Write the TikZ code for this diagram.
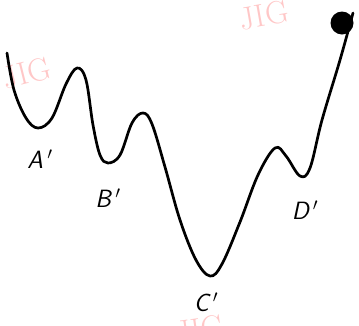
\documentclass[tikz,border=0pt]{standalone}
\usepackage{tikz}
\begin{document}
\begin{tikzpicture}[
  x=1pt, y=-1pt,
  every node/.style={font=\sffamily\itshape\fontsize{25}{28}\selectfont},
  etiqueta/.style={inner sep=1pt},
  marca/.style={text=red!22, font=\rmfamily\fontsize{32}{34}\selectfont, inner sep=0pt},
  curva/.style={line width=2.7pt, line cap=round, line join=round},
  bola/.style={circle, fill=black, minimum size=23pt, inner sep=0pt}
]
\useasboundingbox (0,0) rectangle (359,325);
% marcas d'agua
\node[marca, rotate=14] (m1) at (27,73) {JIG};
\node[marca, rotate=10] (m2) at (264,15) {JIG};
\node[marca, rotate=8] (m3) at (200,329) {JIG};
% paisagem de energia
\draw[curva] plot[smooth, tension=0.6] coordinates {
  (7,53) (14,90) (26,118) (38,128) (52,118) (66,84) (77,68) (86,80)
  (93,125) (100,155) (108,163) (120,155) (132,123) (143,113) (152,124)
  (165,167) (180,220) (196,260) (210,276) (222,264) (240,222) (258,175)
  (275,148) (286,156) (300,176) (310,168) (322,120) (340,60) (353,13)};
% bola
\node[bola] (bola) at (342,23) {};
% minimos
\node[etiqueta] (A) at (40,159) {A\,$'$};
\node[etiqueta] (B) at (108,198) {B\,$'$};
\node[etiqueta] (C) at (206,302) {C\,$'$};
\node[etiqueta] (D) at (305,210) {D\,$'$};
\end{tikzpicture}
\end{document}
